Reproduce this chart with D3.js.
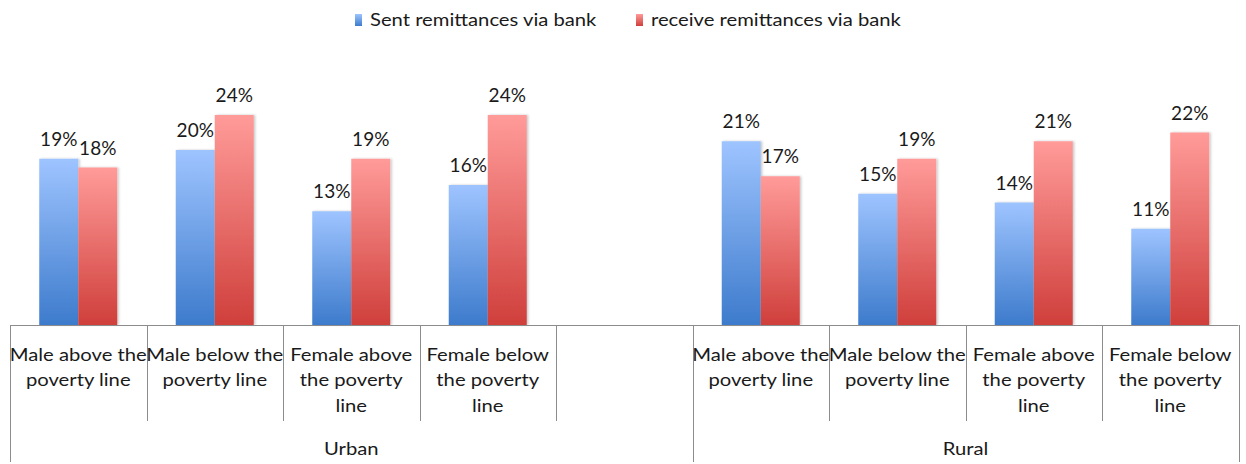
<!DOCTYPE html>
<html>
<head>
<meta charset="utf-8">
<script src="https://cdn.jsdelivr.net/npm/d3@7"></script>
<style>
  html, body { margin: 0; padding: 0; background: #fff; }
  svg { display: block; }
  text { font-family: Lato, "Open Sans", sans-serif; fill: #1a1a1a; }
</style>
</head>
<body>
<svg id="chart" width="1246" height="464"></svg>
<script>
// Category slots along the axis (an empty slot separates Urban from Rural)
const slots = ["u1", "u2", "u3", "u4", "gap", "r1", "r2", "r3", "r4"];
const categoryLabels = [
  ["Male above the", "poverty line"],
  ["Male below the", "poverty line"],
  ["Female above", "the poverty", "line"],
  ["Female below", "the poverty", "line"],
  [],
  ["Male above the", "poverty line"],
  ["Male below the", "poverty line"],
  ["Female above", "the poverty", "line"],
  ["Female below", "the poverty", "line"]
];
const groups = ["Urban", "Rural"];
const groupSpans = [[0, 4], [5, 8]]; // first and last slot index of each group
const seriesNames = ["Sent remittances via bank", "receive remittances via bank"];
// Percent values per slot (null = empty slot)
const sentValues = [19, 20, 13, 16, null, 21, 15, 14, 11];
const receiveValues = [18, 24, 19, 24, null, 17, 19, 21, 22];

const svg = d3.select("#chart");
const axisY = 325;
const textStretch = 1.19; // wide label lettering

const x = d3.scaleBand().domain(slots).range([10, 1238.5]).padding(0);
const xInner = d3.scaleBand().domain([0, 1]).range([0, x.bandwidth()])
  .paddingInner(0).paddingOuter(0.75);
const y = d3.scaleLinear().domain([0, 30]).range([axisY, axisY - 30 * 8.75]);

// Gradients: light at top, darker at bottom
const defs = svg.append("defs");
const gradStops = [
  { id: "gBlue", top: "#9ec4ff", bottom: "#3d7bcc" },
  { id: "gRed", top: "#ff9b99", bottom: "#cf3f3b" }
];
gradStops.forEach(g => {
  const lg = defs.append("linearGradient").attr("id", g.id)
    .attr("x1", 0).attr("y1", 0).attr("x2", 0).attr("y2", 1);
  lg.append("stop").attr("offset", "0%").attr("stop-color", g.top);
  lg.append("stop").attr("offset", "100%").attr("stop-color", g.bottom);
});
const shadow = defs.append("filter").attr("id", "shadow")
  .attr("x", "-20%").attr("y", "-5%").attr("width", "140%").attr("height", "110%");
shadow.append("feDropShadow").attr("dx", 1.5).attr("dy", 0).attr("stdDeviation", 1)
  .attr("flood-color", "#000").attr("flood-opacity", 0.22);

const seriesValues = [sentValues, receiveValues];
const fills = ["url(#gBlue)", "url(#gRed)"];

// Stretched text helper: lines drawn anchored at (cx, cy)
function wideText(parent, cx, cy, lines, anchor, size, lineGap) {
  const g = parent.append("g")
    .attr("transform", `translate(${cx},${cy}) scale(${textStretch},1)`);
  const t = g.append("text").attr("text-anchor", anchor).attr("font-size", size);
  lines.forEach((line, j) => {
    t.append("tspan").attr("x", 0).attr("dy", j === 0 ? 0 : lineGap).text(line);
  });
  return t;
}

// Bars
seriesValues.forEach((vals, s) => {
  const data = slots.map((k, i) => ({ k, v: vals[i] })).filter(d => d.v != null);
  svg.append("g").selectAll("rect").data(data).join("rect")
    .attr("x", d => x(d.k) + xInner(s))
    .attr("width", xInner.bandwidth())
    .attr("y", d => y(d.v))
    .attr("height", d => y(0) - y(d.v))
    .attr("fill", fills[s])
    .attr("filter", "url(#shadow)");
});

// Value labels
seriesValues.forEach((vals, s) => {
  const data = slots.map((k, i) => ({ k, v: vals[i] })).filter(d => d.v != null);
  svg.append("g").selectAll("text").data(data).join("text")
    .attr("x", d => x(d.k) + xInner(s) + xInner.bandwidth() / 2)
    .attr("y", d => y(d.v) - 13)
    .attr("text-anchor", "middle")
    .attr("font-size", 19)
    .text(d => d.v + "%");
});

// Category axis with multi-level ticks
const axis = svg.append("g").attr("stroke", "#8c8c8c").attr("stroke-width", 1);
axis.append("line")
  .attr("x1", x.range()[0]).attr("x2", x.range()[1])
  .attr("y1", axisY + 0.5).attr("y2", axisY + 0.5);
const bounds = slots.map(k => x(k)).concat([x.range()[1]]);
const outer = new Set([0, 5, 9]);
axis.selectAll("line.tick").data(bounds).join("line")
  .attr("class", "tick")
  .attr("x1", d => Math.round(d) + 0.5).attr("x2", d => Math.round(d) + 0.5)
  .attr("y1", axisY)
  .attr("y2", (d, i) => outer.has(i) ? 462 : 421);

// Category labels
const catG = svg.append("g");
slots.forEach((k, i) => {
  wideText(catG, x(k) + x.bandwidth() / 2, 361, categoryLabels[i], "middle", 17, 25.5);
});

// Group labels
const grpG = svg.append("g");
groups.forEach((name, i) => {
  const cx = (x(slots[groupSpans[i][0]]) + x(slots[groupSpans[i][1]]) + x.bandwidth()) / 2;
  wideText(grpG, cx, 455, [name], "middle", 17, 0);
});

// Legend
const legendX = [355, 636];
const legend = svg.append("g");
seriesNames.forEach((name, s) => {
  legend.append("rect").attr("x", legendX[s]).attr("y", 14)
    .attr("width", 7).attr("height", 12).attr("fill", fills[s]);
  wideText(legend, legendX[s] + 15, 25.5, [name], "start", 17, 0);
});
</script>
</body>
</html>
